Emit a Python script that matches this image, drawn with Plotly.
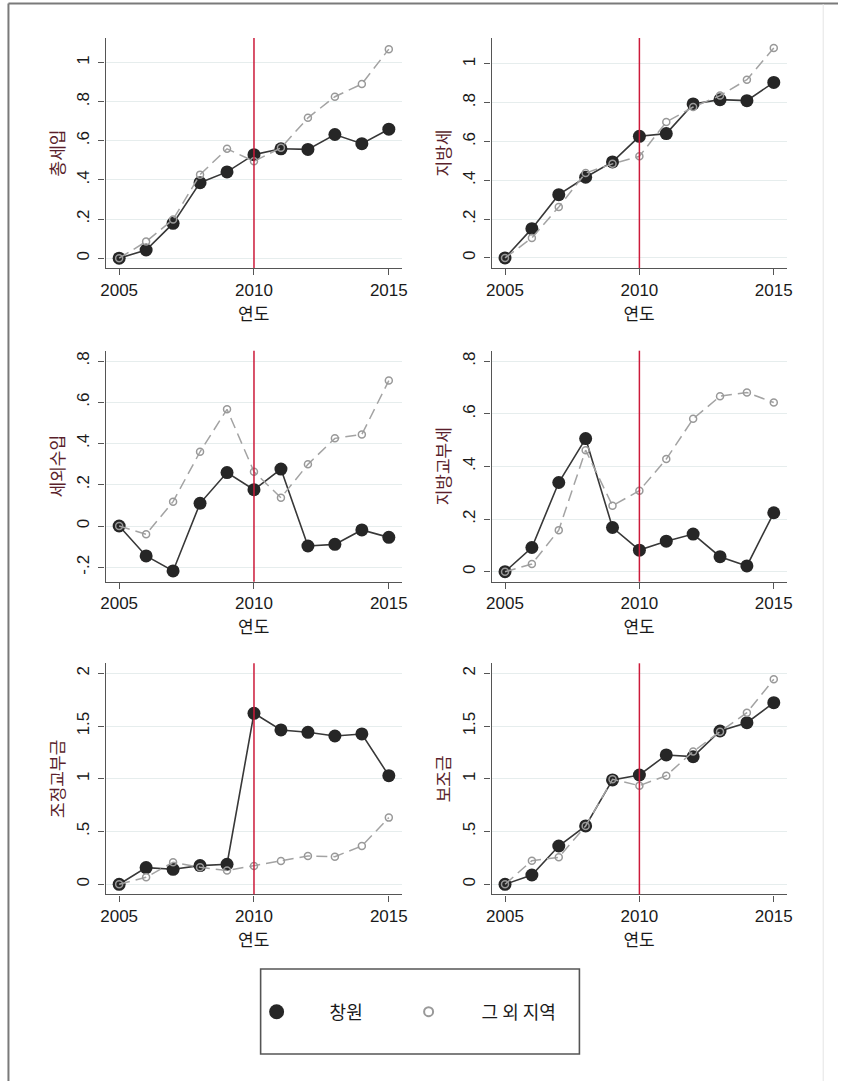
import plotly.graph_objects as go

# ---- data -------------------------------------------------------------
years = list(range(2005, 2016))
reform_year = 2010

series_names = ["창원", "그 외 지역"]
panel_titles = ["총세입", "지방세", "세외수입", "지방교부세", "조정교부금", "보조금"]

# growth relative to 2005, Changwon vs. all other regions
changwon_total = [0, 0.042, 0.178, 0.386, 0.441, 0.529, 0.559, 0.556, 0.632, 0.585, 0.659]
others_total = [0, 0.085, 0.198, 0.427, 0.559, 0.495, 0.564, 0.717, 0.825, 0.890, 1.068]

changwon_localtax = [0, 0.151, 0.326, 0.416, 0.495, 0.627, 0.641, 0.794, 0.816, 0.811, 0.905]
others_localtax = [0, 0.103, 0.263, 0.438, 0.485, 0.524, 0.701, 0.778, 0.837, 0.919, 1.082]

changwon_nontax = [0, -0.145, -0.218, 0.110, 0.259, 0.176, 0.276, -0.097, -0.089, -0.019, -0.055]
others_nontax = [0, -0.040, 0.118, 0.360, 0.566, 0.263, 0.137, 0.299, 0.425, 0.444, 0.705]

changwon_sharedtax = [0, 0.092, 0.339, 0.506, 0.168, 0.082, 0.116, 0.143, 0.057, 0.022, 0.224]
others_sharedtax = [0, 0.029, 0.158, 0.462, 0.251, 0.308, 0.428, 0.581, 0.667, 0.681, 0.643]

changwon_adjgrant = [0, 0.158, 0.142, 0.177, 0.190, 1.621, 1.463, 1.441, 1.406, 1.425, 1.030]
others_adjgrant = [0, 0.066, 0.209, 0.161, 0.130, 0.174, 0.221, 0.269, 0.262, 0.363, 0.632]

changwon_subsidy = [0, 0.088, 0.363, 0.553, 0.989, 1.036, 1.226, 1.210, 1.453, 1.532, 1.722]
others_subsidy = [0, 0.224, 0.256, 0.553, 0.995, 0.935, 1.030, 1.258, 1.447, 1.627, 1.943]

x_ticks = [2005, 2010, 2015]
y_ticks_a = [0, 0.2, 0.4, 0.6, 0.8, 1]
y_labels_a = ["0", ".2", ".4", ".6", ".8", "1"]
y_ticks_b = [-0.2, 0, 0.2, 0.4, 0.6, 0.8]
y_labels_b = ["-.2", "0", ".2", ".4", ".6", ".8"]
y_ticks_c = [0, 0.2, 0.4, 0.6, 0.8]
y_labels_c = ["0", ".2", ".4", ".6", ".8"]
y_ticks_d = [0, 0.5, 1, 1.5, 2]
y_labels_d = ["0", ".5", "1", "1.5", "2"]

# ---- layout helpers ----------------------------------------------------
W, H = 844, 1081
FONT = "Liberation Sans, Arial, Noto Sans CJK KR, sans-serif"
KFONT = "Noto Sans CJK KR, Liberation Sans, sans-serif"

col_dom = [[102 / W, 402 / W], [493 / W, 792 / W]]
row_dom = [[1 - 268 / H, 1 - 38 / H], [1 - 581.7 / H, 1 - 350.7 / H], [1 - 894.3 / H, 1 - 663.3 / H]]

panels = [
    (changwon_total, others_total, y_ticks_a, y_labels_a, [-0.05, 1.125]),
    (changwon_localtax, others_localtax, y_ticks_a, y_labels_a, [-0.052, 1.134]),
    (changwon_nontax, others_nontax, y_ticks_b, y_labels_b, [-0.27, 0.85]),
    (changwon_sharedtax, others_sharedtax, y_ticks_c, y_labels_c, [-0.038, 0.84]),
    (changwon_adjgrant, others_adjgrant, y_ticks_d, y_labels_d, [-0.095, 2.095]),
    (changwon_subsidy, others_subsidy, y_ticks_d, y_labels_d, [-0.095, 2.095]),
]

fig = go.Figure()
layout = {}
shapes = []

for i, (cw, ot, yt, yl, yr) in enumerate(panels):
    n = i + 1
    sfx = "" if n == 1 else str(n)
    xa, ya = "x" + sfx, "y" + sfx
    row, col = divmod(i, 2)

    fig.add_trace(go.Scatter(
        x=years, y=cw, xaxis=xa, yaxis=ya, mode="lines+markers", showlegend=False,
        line=dict(color="#383838", width=1.6),
        marker=dict(symbol="circle", size=13, color="#262626"),
    ))
    fig.add_trace(go.Scatter(
        x=years, y=ot, xaxis=xa, yaxis=ya, mode="lines+markers", showlegend=False,
        line=dict(color="#a3a3a3", width=1.5, dash="11px,6px"),
        marker=dict(symbol="circle-open", size=7, color="#999999", line=dict(width=1.5)),
    ))

    layout["xaxis" + sfx] = dict(
        domain=col_dom[col], anchor=ya, range=[2004.5, 2015.48],
        tickvals=x_ticks, ticks="outside", ticklen=6, tickwidth=1.3, tickcolor="#555",
        showline=True, linecolor="#555", linewidth=1.4, showgrid=False, zeroline=False,
        tickfont=dict(family=FONT, size=17, color="#1a1a1a"),
        title=dict(text="연도", font=dict(family=KFONT, size=17, color="#1a1a1a"), standoff=2),
    )
    layout["yaxis" + sfx] = dict(
        domain=row_dom[row], anchor=xa, range=yr,
        tickvals=yt, ticktext=yl, tickangle=-90, ticks="outside", ticklen=6, tickwidth=1.3,
        tickcolor="#555", showline=True, linecolor="#555", linewidth=1.4,
        showgrid=True, gridcolor="#e6eded", gridwidth=1, zeroline=False,
        ticklabelstandoff=3,
        tickfont=dict(family=FONT, size=17, color="#1a1a1a"),
        title=dict(text=panel_titles[i], font=dict(family=KFONT, size=17, color="#5a1f2c"), standoff=4),
    )
    shapes.append(dict(
        type="line", xref=xa, yref=ya + " domain", x0=reform_year, x1=reform_year, y0=0, y1=1,
        line=dict(color="#cc1a3a", width=1.5), layer="above",
    ))

# legend-only entries, one legend box per series
fig.add_trace(go.Scatter(
    x=[None], y=[None], mode="markers", name=series_names[0], legend="legend",
    marker=dict(symbol="circle", size=15, color="#262626"),
))
fig.add_trace(go.Scatter(
    x=[None], y=[None], mode="markers", name=series_names[1], legend="legend2",
    marker=dict(symbol="circle-open", size=9, color="#999999", line=dict(width=2)),
))

# legend frame and page frame
shapes.append(dict(type="rect", xref="paper", yref="paper",
                   x0=259 / W, x1=582 / W, y0=1 - 1054 / H, y1=1 - 969 / H,
                   line=dict(color="#555", width=1.6), fillcolor="rgba(0,0,0,0)"))
shapes.append(dict(type="line", xref="paper", yref="paper", x0=3.5 / W, x1=1, y0=1 - 3.5 / H, y1=1 - 3.5 / H,
                   line=dict(color="#7a7a7a", width=2)))
shapes.append(dict(type="line", xref="paper", yref="paper", x0=3.5 / W, x1=3.5 / W, y0=0, y1=1 - 3.5 / H,
                   line=dict(color="#7a7a7a", width=2)))
shapes.append(dict(type="line", xref="paper", yref="paper", x0=829 / W, x1=829 / W, y0=0, y1=1 - 4 / H,
                   line=dict(color="#e4e4e4", width=1)))

legend_style = dict(
    orientation="h", xanchor="left", yanchor="middle", y=1 - 1012 / H,
    font=dict(family=KFONT, size=18, color="#1a1a1a"),
    itemwidth=96, bgcolor="rgba(0,0,0,0)", borderwidth=0,
)

fig.update_layout(
    width=W, height=H,
    margin=dict(l=0, r=0, t=0, b=0),
    paper_bgcolor="white", plot_bgcolor="white",
    showlegend=True,
    legend=dict(x=221.5 / W, **legend_style),
    legend2=dict(x=375.5 / W, **legend_style),
    shapes=shapes,
    **layout,
)

fig.write_html("out.html")
